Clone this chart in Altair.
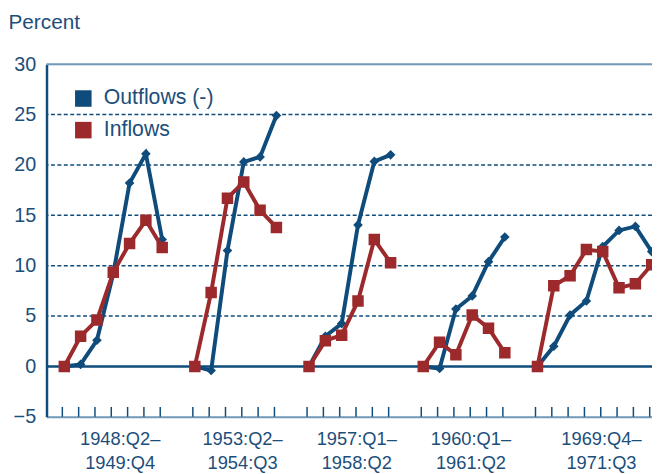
import altair as alt
import pandas as pd

# ---- data ----
episodes = ["1948:Q2–\n1949:Q4", "1953:Q2–\n1954:Q3", "1957:Q1–\n1958:Q2",
            "1960:Q1–\n1961:Q2", "1969:Q4–\n1971:Q3"]
outflows = [
    [0, 0.2, 2.6, 9.2, 18.2, 21.1, 12.6],
    [0, -0.4, 11.5, 20.3, 20.8, 24.9],
    [0, 3.0, 4.25, 14.05, 20.35, 21.0],
    [0, -0.2, 5.7, 7.0, 10.4, 12.85],
    [0, 2.0, 5.1, 6.5, 11.9, 13.5, 13.9, 11.4],
]
inflows = [
    [0, 3.0, 4.6, 9.35, 12.2, 14.5, 11.8],
    [0, 7.35, 16.7, 18.3, 15.5, 13.8],
    [0, 2.55, 3.1, 6.5, 12.6, 10.3],
    [0, 2.4, 1.15, 5.1, 3.8, 1.35],
    [0, 8.0, 9.0, 11.6, 11.4, 7.8, 8.2, 10.1],
]
series_names = ["Outflows (-)", "Inflows"]
grid_dashed = [5, 10, 15, 20, 25]
y_ticks = [-5, 0, 5, 10, 15, 20, 25, 30]

# ---- build tables ----
rows, label_rows, tick_rows = [], [], []
slot = 0
for ep, outs, ins in zip(episodes, outflows, inflows):
    for k, (o, i) in enumerate(zip(outs, ins)):
        rows.append({"episode": ep, "slot": slot + k, "series": series_names[0], "value": o})
        rows.append({"episode": ep, "slot": slot + k, "series": series_names[1], "value": i})
        tick_rows.append({"slot": slot + k})
    label_rows.append({"label": ep, "slot": slot + (len(outs) - 1) / 2})
    slot += len(outs) + 1

df = pd.DataFrame(rows)
labels_df = pd.DataFrame(label_rows)
ticks_df = pd.DataFrame(tick_rows)

BLUE = "#0f4c7b"
RED = "#9c2a2c"
TXT = "#1c4e7a"
LIGHT = "#7199b8"
FONT = "Liberation Sans"

W, H = 613, 357
xscale = alt.Scale(domain=[-1.09, 36.02], nice=False, zero=False)
yscale = alt.Scale(domain=[-5, 30], nice=False, zero=False)
cscale = alt.Scale(domain=series_names, range=[BLUE, RED])

legend = alt.Legend(orient="none", legendX=26.5, legendY=24, title=None,
                    symbolType="square", symbolSize=280, symbolStrokeWidth=0,
                    symbolOpacity=1, labelFontSize=21.5, labelColor=TXT, labelFont=FONT,
                    rowPadding=9, labelOffset=10, padding=0)

x_axis = alt.Axis(labels=False, ticks=False, grid=False, title=None,
                  domain=True, domainColor=LIGHT, domainWidth=2)
y_axis = alt.Axis(values=y_ticks, grid=False, ticks=False, domain=True,
                  domainColor=BLUE, domainWidth=2.5, labelFontSize=20,
                  labelColor=TXT, labelFont=FONT, labelPadding=11,
                  title="Percent", titleAngle=0, titleX=-39, titleY=-42,
                  titleAlign="left", titleBaseline="middle",
                  titleFontSize=21, titleFontWeight="normal",
                  titleColor=TXT, titleFont=FONT)

X = alt.X("slot:Q", scale=xscale, axis=x_axis)
Y = alt.Y("value:Q", scale=yscale, axis=y_axis)

grid = alt.Chart(pd.DataFrame({"value": grid_dashed})).mark_rule(
    color=BLUE, strokeWidth=1.5, strokeDash=[4, 2.5]).encode(y=Y)
zero = alt.Chart(pd.DataFrame({"value": [0]})).mark_rule(color=BLUE, strokeWidth=2.5).encode(y=Y)
top = alt.Chart(pd.DataFrame({"value": [30]})).mark_rule(color=LIGHT, strokeWidth=2).encode(y=Y)

ticks = alt.Chart(ticks_df).mark_rule(color=BLUE, strokeWidth=1.5, xOffset=-2).encode(
    x=X, y=alt.value(H), y2=alt.value(H - 10))

xlabels = alt.Chart(labels_df).mark_text(lineBreak="\n", baseline="top", align="center", dx=7,
                                         fontSize=18.5, lineHeight=24, color=TXT, font=FONT).encode(
    x=X, y=alt.value(H + 14), text="label:N")

base = alt.Chart(df)
out_line = base.transform_filter(alt.datum.series == series_names[0]).mark_line(
    color=BLUE, strokeWidth=4, clip=True).encode(x=X, y=Y, detail="episode:N")
out_pts = base.transform_filter(alt.datum.series == series_names[0]).mark_point(
    shape="diamond", filled=True, opacity=1, size=95, clip=True).encode(
    x=X, y=Y, color=alt.Color("series:N", scale=cscale, legend=legend))
in_line = base.transform_filter(alt.datum.series == series_names[1]).mark_line(
    color=RED, strokeWidth=4, clip=True).encode(x=X, y=Y, detail="episode:N")
in_pts = base.transform_filter(alt.datum.series == series_names[1]).mark_point(
    shape="square", filled=True, opacity=1, size=135, clip=True).encode(
    x=X, y=Y, color=alt.Color("series:N", scale=cscale, legend=legend))

chart = alt.layer(grid, top, zero, ticks, xlabels, out_line, out_pts, in_line, in_pts).properties(
    width=W, height=H,
    padding={"left": 39, "top": 54, "right": 0, "bottom": 55},
    autosize=alt.AutoSizeParams(type="none"),
).configure_view(stroke=None).configure(background="white")

chart.save("out.html", embed_options={"renderer": "svg", "actions": False})
